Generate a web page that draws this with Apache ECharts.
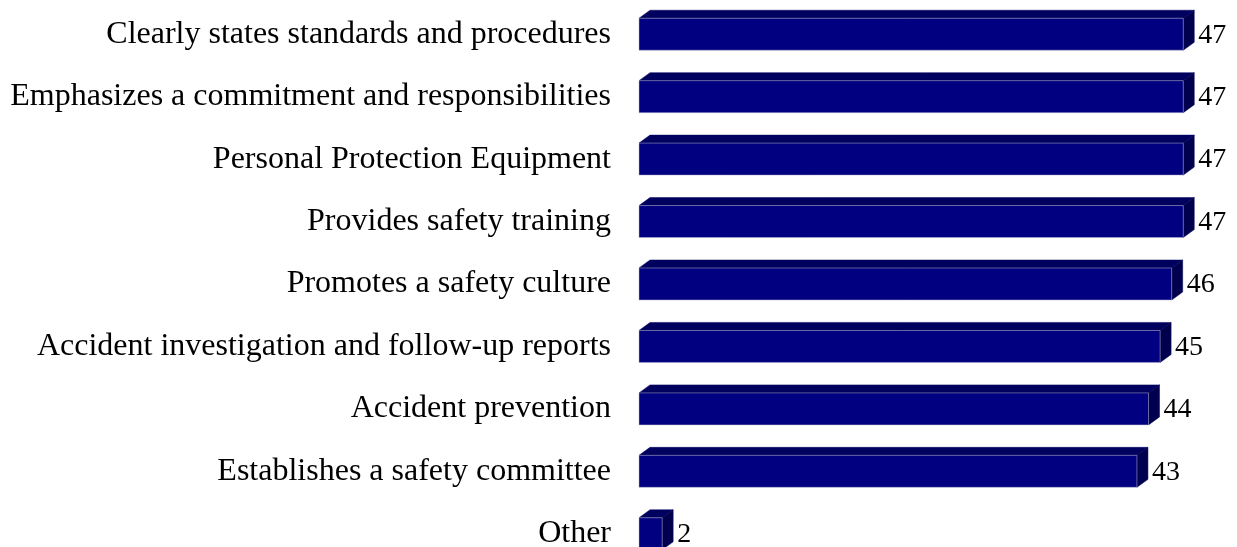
<!DOCTYPE html>
<html>
<head>
<meta charset="utf-8">
<script src="https://cdn.jsdelivr.net/npm/echarts@6/dist/echarts.min.js"></script>
<style>
  html, body { margin: 0; padding: 0; background: #ffffff; }
  #chart { width: 1237px; height: 547px; }
</style>
</head>
<body>
<div id="chart"></div>
<script>
// Survey items, top to bottom
const categories = [
  'Clearly states standards and procedures',
  'Emphasizes a commitment and responsibilities',
  'Personal Protection Equipment',
  'Provides safety training',
  'Promotes a safety culture',
  'Accident investigation and follow-up reports',
  'Accident prevention',
  'Establishes a safety committee',
  'Other'
];
// Number of responses for each item
const counts = [47, 47, 47, 47, 46, 45, 44, 43, 2];

const FRONT = '#000080';
const TOP = '#00005e';
const SIDE = '#00004e';
const DEPTH_X = 11;
const DEPTH_Y = 8;
const BAR_H = 32;

const chart = echarts.init(document.getElementById('chart'));

// Pseudo-3D bar: front face, top face, right side face and a value label
function renderBar(params, api) {
  const cat = api.value(0);
  const val = api.value(1);
  const start = api.coord([0, cat]);
  const end = api.coord([val, cat]);
  const cy = start[1];
  const x0 = start[0];
  const x1 = end[0];
  const y0 = cy - BAR_H / 2;
  const y1 = cy + BAR_H / 2;
  return {
    type: 'group',
    children: [
      {
        type: 'polygon',
        shape: { points: [[x0, y0], [x0 + DEPTH_X, y0 - DEPTH_Y], [x1 + DEPTH_X, y0 - DEPTH_Y], [x1, y0]] },
        style: { fill: TOP, stroke: TOP, lineWidth: 0.5 }
      },
      {
        type: 'polygon',
        shape: { points: [[x1, y0], [x1 + DEPTH_X, y0 - DEPTH_Y], [x1 + DEPTH_X, y1 - DEPTH_Y], [x1, y1]] },
        style: { fill: SIDE, stroke: SIDE, lineWidth: 0.5 }
      },
      {
        type: 'rect',
        shape: { x: x0, y: y0, width: x1 - x0, height: BAR_H },
        style: { fill: FRONT, stroke: '#b4b4cc', lineWidth: 0.5 }
      },
      {
        type: 'text',
        style: {
          x: x1 + DEPTH_X + 4,
          y: cy + 1,
          text: String(val),
          fill: '#000000',
          font: '28px "Liberation Serif", "Times New Roman", serif',
          verticalAlign: 'middle',
          align: 'left'
        }
      }
    ]
  };
}

chart.setOption({
  backgroundColor: '#ffffff',
  animation: false,
  grid: {
    left: 639, right: 19, top: 3, height: 562,
    containLabel: false,
    outerBoundsMode: 'none'
  },
  xAxis: { type: 'value', min: 0, max: 50, show: false },
  yAxis: {
    type: 'category',
    data: categories,
    inverse: true,
    axisLine: { show: false },
    axisTick: { show: false },
    splitLine: { show: false },
    axisLabel: {
      margin: 28,
      color: '#000000',
      fontSize: 32,
      fontFamily: '"Liberation Serif", "Times New Roman", serif',
      padding: [2, 0, 0, 0]
    }
  },
  series: [{
    type: 'custom',
    renderItem: renderBar,
    encode: { x: 1, y: 0 },
    data: counts.map((v, i) => [i, v]),
    clip: false
  }]
});
</script>
</body>
</html>
